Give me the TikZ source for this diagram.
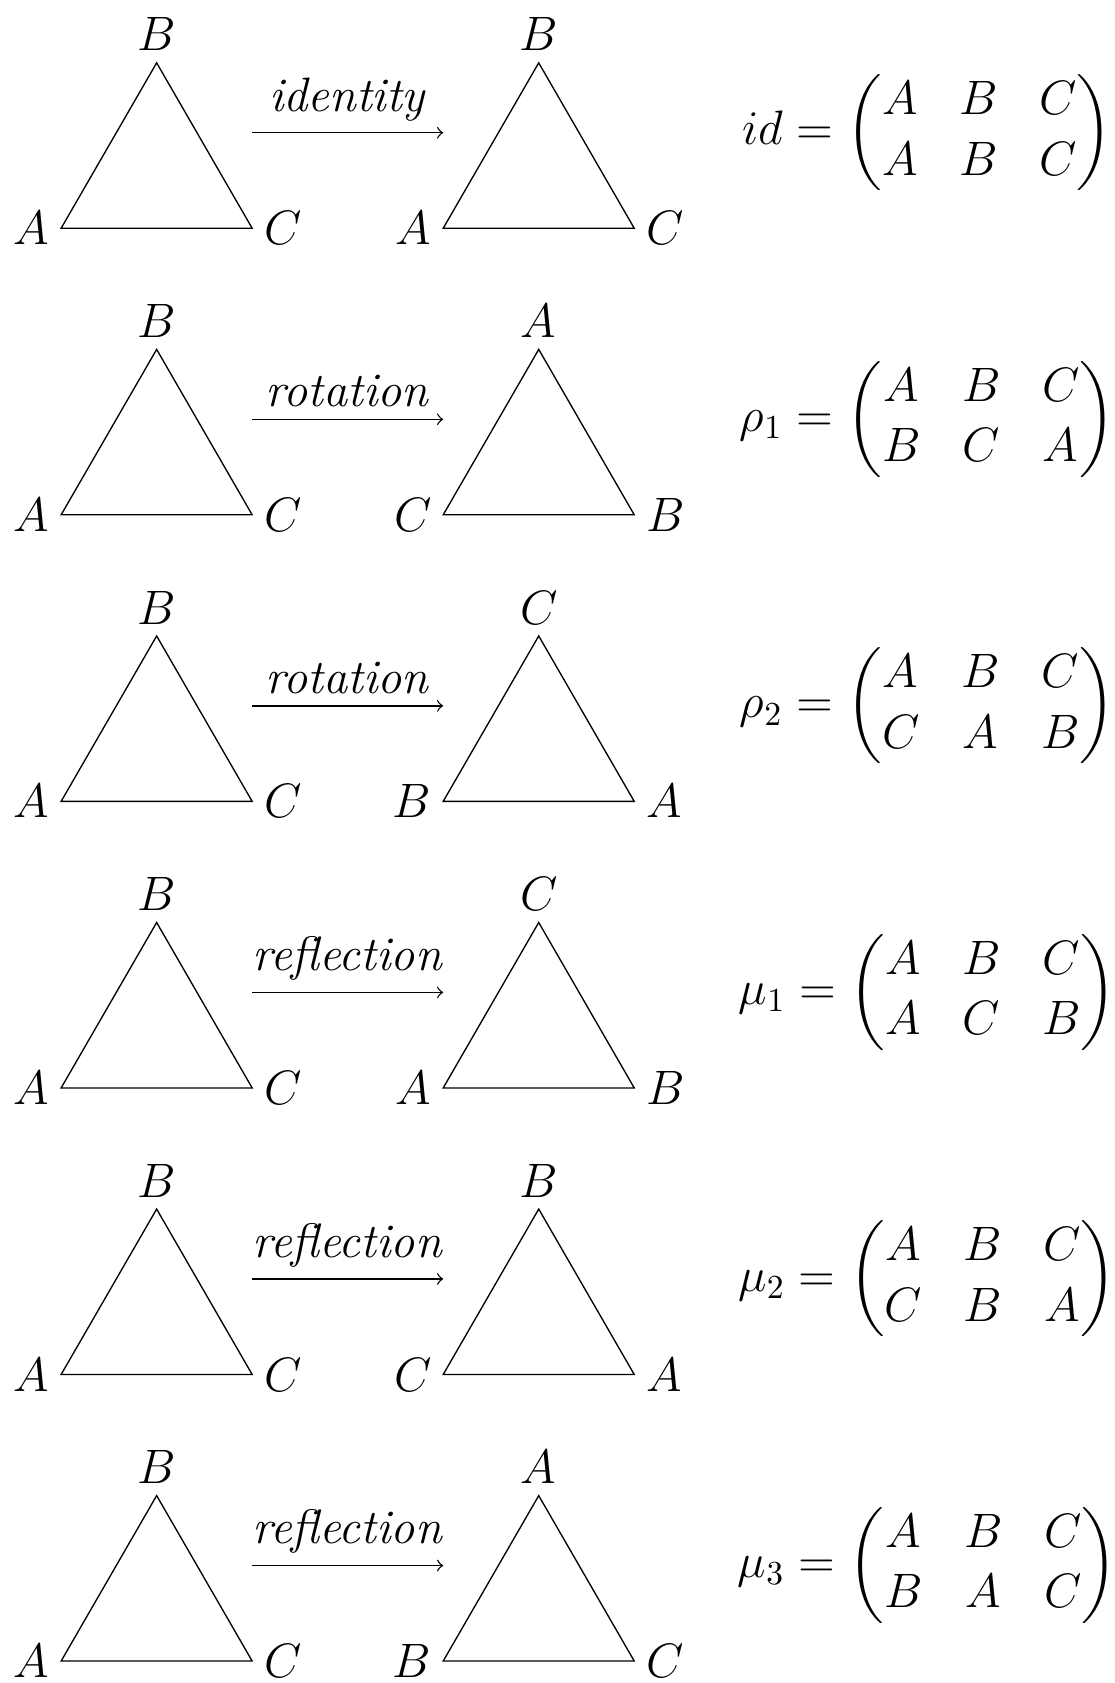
\documentclass[tikz,border=0pt]{standalone}
\usepackage{amsmath, amssymb}
\usepackage{tikz}
\setlength{\arraycolsep}{6.2pt}

\begin{document}
\begin{tikzpicture}[every node/.style={font=\Large}]
\useasboundingbox (-0.64,-15.23) rectangle (11.023,2.39);

% Row 1: identity
\draw (0,0) node[left] (a1) {$A$} -- (1,1.732) node[above] (b1) {$B$} -- (2,0) node[right] (c1) {$C$} -- cycle;
\draw (4,0) node[left] (a1r) {$A$} -- (5,1.732) node[above] (b1r) {$B$} -- (6,0) node[right] (c1r) {$C$} -- cycle;
\coordinate (s1) at (2,1); \coordinate (e1) at (4,1);
\draw[->] (s1) -- node[above] (m1) {\textit{identity}} (e1);
\node at (9.07,1) (f1) {$id = \begin{pmatrix} A & B & C\\ A & B & C \end{pmatrix}$};

% Row 2: rotation
\draw (0,-3) node[left] (a2) {$A$} -- (1,-1.268) node[above] (b2) {$B$} -- (2,-3) node[right] (c2) {$C$} -- cycle;
\draw (4,-3) node[left] (a2r) {$C$} -- (5,-1.268) node[above] (b2r) {$A$} -- (6,-3) node[right] (c2r) {$B$} -- cycle;
\coordinate (s2) at (2,-2); \coordinate (e2) at (4,-2);
\draw[->] (s2) -- node[above] (m2) {\textit{rotation}} (e2);
\node at (9.07,-2) (f2) {$\rho_1 = \begin{pmatrix} A & B & C\\ B & C & A \end{pmatrix}$};

% Row 3: rotation
\draw (0,-6) node[left] (a3) {$A$} -- (1,-4.268) node[above] (b3) {$B$} -- (2,-6) node[right] (c3) {$C$} -- cycle;
\draw (4,-6) node[left] (a3r) {$B$} -- (5,-4.268) node[above] (b3r) {$C$} -- (6,-6) node[right] (c3r) {$A$} -- cycle;
\coordinate (s3) at (2,-5); \coordinate (e3) at (4,-5);
\draw[->] (s3) -- node[above] (m3) {\textit{rotation}} (e3);
\node at (9.07,-5) (f3) {$\rho_2 = \begin{pmatrix} A & B & C\\ C & A & B \end{pmatrix}$};

% Row 4: reflection
\draw (0,-9) node[left] (a4) {$A$} -- (1,-7.268) node[above] (b4) {$B$} -- (2,-9) node[right] (c4) {$C$} -- cycle;
\draw (4,-9) node[left] (a4r) {$A$} -- (5,-7.268) node[above] (b4r) {$C$} -- (6,-9) node[right] (c4r) {$B$} -- cycle;
\coordinate (s4) at (2,-8); \coordinate (e4) at (4,-8);
\draw[->] (s4) -- node[above] (m4) {\textit{reflection}} (e4);
\node at (9.07,-8) (f4) {$\mu_1 = \begin{pmatrix} A & B & C\\ A & C & B \end{pmatrix}$};

% Row 5: reflection
\draw (0,-12) node[left] (a5) {$A$} -- (1,-10.268) node[above] (b5) {$B$} -- (2,-12) node[right] (c5) {$C$} -- cycle;
\draw (4,-12) node[left] (a5r) {$C$} -- (5,-10.268) node[above] (b5r) {$B$} -- (6,-12) node[right] (c5r) {$A$} -- cycle;
\coordinate (s5) at (2,-11); \coordinate (e5) at (4,-11);
\draw[->] (s5) -- node[above] (m5) {\textit{reflection}} (e5);
\node at (9.07,-11) (f5) {$\mu_2 = \begin{pmatrix} A & B & C\\ C & B & A \end{pmatrix}$};

% Row 6: reflection
\draw (0,-15) node[left] (a6) {$A$} -- (1,-13.268) node[above] (b6) {$B$} -- (2,-15) node[right] (c6) {$C$} -- cycle;
\draw (4,-15) node[left] (a6r) {$B$} -- (5,-13.268) node[above] (b6r) {$A$} -- (6,-15) node[right] (c6r) {$C$} -- cycle;
\coordinate (s6) at (2,-14); \coordinate (e6) at (4,-14);
\draw[->] (s6) -- node[above] (m6) {\textit{reflection}} (e6);
\node at (9.07,-14) (f6) {$\mu_3 = \begin{pmatrix} A & B & C\\ B & A & C \end{pmatrix}$};
\end{tikzpicture}
\end{document}
